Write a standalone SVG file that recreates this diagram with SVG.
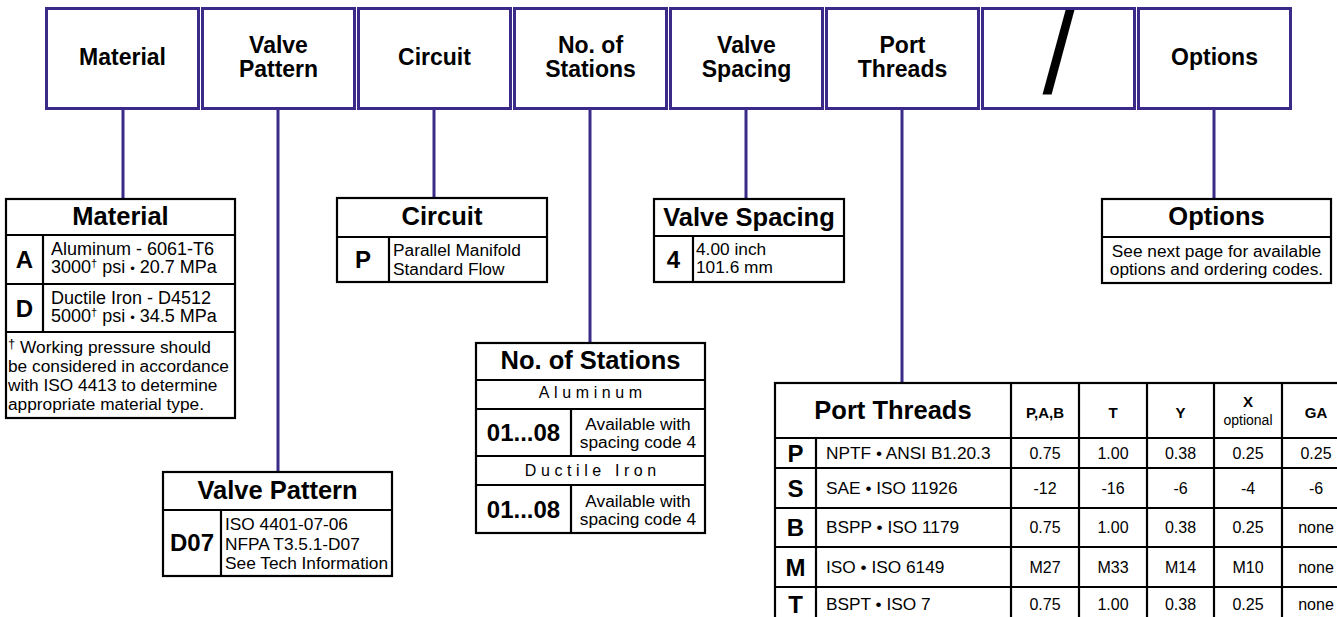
<svg xmlns="http://www.w3.org/2000/svg" width="1337" height="617" viewBox="0 0 1337 617">
<style>
text{font-family:"Liberation Sans",Arial,Helvetica,sans-serif;fill:#000}
.hdr{fill:#fff;stroke:#3b2a87;stroke-width:3}
.conn line{stroke:#3b2a87;stroke-width:3}
.bx{fill:#fff;stroke:#000;stroke-width:2.2}
.ln{stroke:#000;stroke-width:2.2}
.hl{font-size:23px;font-weight:bold;text-anchor:middle}
.tt{font-size:25.5px;font-weight:bold;text-anchor:middle}
.cd{font-size:24px;font-weight:bold;text-anchor:middle}
.sm{font-size:17.3px}
.mt{font-size:18px}
.smc{font-size:17.3px;text-anchor:middle}
.sp{font-size:16px;letter-spacing:4.6px;text-anchor:middle}
.ch{font-size:15px;font-weight:bold;text-anchor:middle}
.tv{font-size:16px;text-anchor:middle}
</style>
<rect width="1337" height="617" fill="#fff"/>

<g id="connectors" class="conn">
<line x1="123" y1="110" x2="123" y2="199"/>
<line x1="278" y1="110" x2="278" y2="472"/>
<line x1="434" y1="110" x2="434" y2="198"/>
<line x1="590" y1="110" x2="590" y2="343"/>
<line x1="746" y1="110" x2="746" y2="199"/>
<line x1="902" y1="110" x2="902" y2="383"/>
<line x1="1214" y1="110" x2="1214" y2="199"/>
</g>

<g id="header-material"><rect class="hdr" x="46.5" y="8.5" width="152" height="100"/><text class="hl" x="122.5" y="65">Material</text></g>
<g id="header-valve-pattern"><rect class="hdr" x="202.5" y="8.5" width="152" height="100"/><text class="hl" x="278.5" y="53">Valve</text><text class="hl" x="278.5" y="77">Pattern</text></g>
<g id="header-circuit"><rect class="hdr" x="358.5" y="8.5" width="152" height="100"/><text class="hl" x="434.5" y="65">Circuit</text></g>
<g id="header-stations"><rect class="hdr" x="514.5" y="8.5" width="152" height="100"/><text class="hl" x="590.5" y="53">No. of</text><text class="hl" x="590.5" y="77">Stations</text></g>
<g id="header-spacing"><rect class="hdr" x="670.5" y="8.5" width="152" height="100"/><text class="hl" x="746.5" y="53">Valve</text><text class="hl" x="746.5" y="77">Spacing</text></g>
<g id="header-port"><rect class="hdr" x="826.5" y="8.5" width="152" height="100"/><text class="hl" x="902.5" y="53">Port</text><text class="hl" x="902.5" y="77">Threads</text></g>
<g id="header-slash"><rect class="hdr" x="982.5" y="8.5" width="152" height="100"/><text x="1058.5" y="93" style="font-size:115px;text-anchor:middle">/</text></g>
<g id="header-options"><rect class="hdr" x="1138.5" y="8.5" width="152" height="100"/><text class="hl" x="1214.5" y="65">Options</text></g>

<g id="material">
<rect class="bx" x="6" y="199" width="229" height="219"/>
<line class="ln" x1="6" y1="235" x2="235" y2="235"/>
<line class="ln" x1="6" y1="284" x2="235" y2="284"/>
<line class="ln" x1="6" y1="332" x2="235" y2="332"/>
<line class="ln" x1="43" y1="235" x2="43" y2="332"/>
<text class="tt" x="120.5" y="225">Material</text>
<text class="cd" x="24.5" y="268">A</text>
<text class="cd" x="24.5" y="317">D</text>
<text class="mt" x="51" y="255">Aluminum - 6061-T6</text>
<text class="mt" x="51" y="273">3000<tspan font-size="11" dy="-6">†</tspan><tspan dy="6"> psi </tspan><tspan font-size="13">•</tspan> 20.7 MPa</text>
<text class="mt" x="51" y="304">Ductile Iron - D4512</text>
<text class="mt" x="51" y="322">5000<tspan font-size="11" dy="-6">†</tspan><tspan dy="6"> psi </tspan><tspan font-size="13">•</tspan> 34.5 MPa</text>
<text class="sm" x="8" y="353"><tspan font-size="13" dy="-5">†</tspan><tspan dy="5"> Working pressure should</tspan></text>
<text class="sm" x="8" y="372">be considered in accordance</text>
<text class="sm" x="8" y="391">with ISO 4413 to determine</text>
<text class="sm" x="8" y="410">appropriate material type.</text>
</g>

<g id="circuit">
<rect class="bx" x="337" y="198" width="210" height="84"/>
<line class="ln" x1="337" y1="237" x2="547" y2="237"/>
<line class="ln" x1="389" y1="237" x2="389" y2="282"/>
<text class="tt" x="442" y="225">Circuit</text>
<text class="cd" x="363" y="268">P</text>
<text class="sm" x="393" y="256">Parallel Manifold</text>
<text class="sm" x="393" y="275">Standard Flow</text>
</g>

<g id="valve-spacing">
<rect class="bx" x="654" y="199" width="190" height="83"/>
<line class="ln" x1="654" y1="236" x2="844" y2="236"/>
<line class="ln" x1="693" y1="236" x2="693" y2="282"/>
<text class="tt" x="749" y="226">Valve Spacing</text>
<text class="cd" x="673.5" y="268">4</text>
<text class="sm" x="696" y="255">4.00 inch</text>
<text class="sm" x="696" y="273">101.6 mm</text>
</g>

<g id="options">
<rect class="bx" x="1102" y="199" width="229" height="84"/>
<line class="ln" x1="1102" y1="237" x2="1331" y2="237"/>
<text class="tt" x="1216.5" y="225">Options</text>
<text class="smc" x="1216.5" y="257">See next page for available</text>
<text class="smc" x="1216.5" y="275">options and ordering codes.</text>
</g>

<g id="stations">
<rect class="bx" x="476" y="343" width="229" height="190"/>
<line class="ln" x1="476" y1="380" x2="705" y2="380"/>
<line class="ln" x1="476" y1="409" x2="705" y2="409"/>
<line class="ln" x1="476" y1="456" x2="705" y2="456"/>
<line class="ln" x1="476" y1="485" x2="705" y2="485"/>
<line class="ln" x1="571" y1="409" x2="571" y2="456"/>
<line class="ln" x1="571" y1="485" x2="571" y2="533"/>
<text class="tt" x="590.5" y="369">No. of Stations</text>
<text class="sp" x="592.8" y="398">Aluminum</text>
<text class="cd" x="523.5" y="441">01...08</text>
<text class="smc" x="638" y="430">Available with</text>
<text class="smc" x="638" y="448">spacing code 4</text>
<text class="sp" x="592.8" y="476">Ductile Iron</text>
<text class="cd" x="523.5" y="518">01...08</text>
<text class="smc" x="638" y="507">Available with</text>
<text class="smc" x="638" y="525">spacing code 4</text>
</g>

<g id="valve-pattern">
<rect class="bx" x="163" y="472" width="229" height="104"/>
<line class="ln" x1="163" y1="510" x2="392" y2="510"/>
<line class="ln" x1="221" y1="510" x2="221" y2="576"/>
<text class="tt" x="277.5" y="499">Valve Pattern</text>
<text class="cd" x="192" y="551">D07</text>
<text class="sm" x="225" y="530">ISO 4401-07-06</text>
<text class="sm" x="225" y="550">NFPA T3.5.1-D07</text>
<text class="sm" x="225" y="569">See Tech Information</text>
</g>

<g id="port-threads">
<rect class="bx" x="775" y="383" width="580" height="260"/>
<line class="ln" x1="775" y1="438" x2="1337" y2="438"/>
<line class="ln" x1="775" y1="468" x2="1337" y2="468"/>
<line class="ln" x1="775" y1="508" x2="1337" y2="508"/>
<line class="ln" x1="775" y1="547" x2="1337" y2="547"/>
<line class="ln" x1="775" y1="587" x2="1337" y2="587"/>
<line class="ln" x1="816" y1="438" x2="816" y2="617"/>
<line class="ln" x1="1011" y1="383" x2="1011" y2="617"/>
<line class="ln" x1="1079" y1="383" x2="1079" y2="617"/>
<line class="ln" x1="1147" y1="383" x2="1147" y2="617"/>
<line class="ln" x1="1214" y1="383" x2="1214" y2="617"/>
<line class="ln" x1="1282" y1="383" x2="1282" y2="617"/>
<text class="tt" x="893" y="419">Port Threads</text>
<text class="ch" x="1045" y="418">P,A,B</text>
<text class="ch" x="1113" y="418">T</text>
<text class="ch" x="1180.5" y="418">Y</text>
<text class="ch" x="1248" y="407">X</text>
<text class="tv" x="1248" y="425" style="font-size:14px">optional</text>
<text class="ch" x="1316" y="418">GA</text>

<text class="cd" x="795.5" y="462">P</text>
<text class="sm" x="826" y="459">NPTF • ANSI B1.20.3</text>
<text class="tv" x="1045" y="459">0.75</text><text class="tv" x="1113" y="459">1.00</text><text class="tv" x="1180.5" y="459">0.38</text><text class="tv" x="1248" y="459">0.25</text><text class="tv" x="1316" y="459">0.25</text>

<text class="cd" x="795.5" y="497">S</text>
<text class="sm" x="826" y="494">SAE • ISO 11926</text>
<text class="tv" x="1045" y="494">-12</text><text class="tv" x="1113" y="494">-16</text><text class="tv" x="1180.5" y="494">-6</text><text class="tv" x="1248" y="494">-4</text><text class="tv" x="1316" y="494">-6</text>

<text class="cd" x="795.5" y="536">B</text>
<text class="sm" x="826" y="533">BSPP • ISO 1179</text>
<text class="tv" x="1045" y="533">0.75</text><text class="tv" x="1113" y="533">1.00</text><text class="tv" x="1180.5" y="533">0.38</text><text class="tv" x="1248" y="533">0.25</text><text class="tv" x="1316" y="533">none</text>

<text class="cd" x="795.5" y="576">M</text>
<text class="sm" x="826" y="573">ISO • ISO 6149</text>
<text class="tv" x="1045" y="573">M27</text><text class="tv" x="1113" y="573">M33</text><text class="tv" x="1180.5" y="573">M14</text><text class="tv" x="1248" y="573">M10</text><text class="tv" x="1316" y="573">none</text>

<text class="cd" x="795.5" y="613">T</text>
<text class="sm" x="826" y="610">BSPT • ISO 7</text>
<text class="tv" x="1045" y="610">0.75</text><text class="tv" x="1113" y="610">1.00</text><text class="tv" x="1180.5" y="610">0.38</text><text class="tv" x="1248" y="610">0.25</text><text class="tv" x="1316" y="610">none</text>
</g>
</svg>
